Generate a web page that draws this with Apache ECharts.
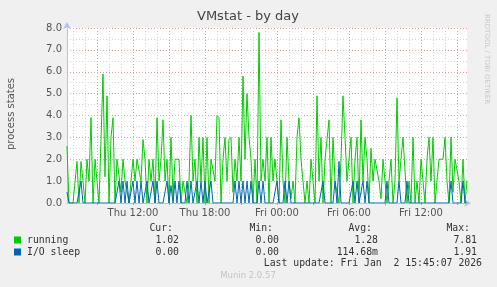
<!DOCTYPE html>
<html><head><meta charset="utf-8">
<script src="https://cdn.jsdelivr.net/npm/echarts@6/dist/echarts.min.js"></script>
<style>html,body{margin:0;padding:0;background:#F0F0F0}#c{width:497px;height:287px}</style>
</head><body><div id="c"></div>
<script>
// Time axis in hours since Thu 00:00; samples every 10 minutes
const startHour = 6.5;
const stepHours = 1 / 6;
const axisMinHour = 6.5;
const axisMaxHour = 6.5 + 400 / 12;
const labelHours = [12, 18, 24, 30, 36];
const majorGridHours = [9, 12, 15, 18, 21, 24, 27, 30, 33, 36, 39];
const minorGridHours = [7, 8, 10, 11, 13, 14, 16, 17, 19, 20, 22, 23, 25, 26, 28, 29, 31, 32, 34, 35, 37, 38];

const running = [
  2.6,0,0,0,0,1.9,0,1.9,1.0,0, 2.0,1.0,3.9,0,2.0,1.0,0,2.9,5.9,1.2,
  4.9,0,3.0,3.9,0,2.0,2.0,0.5,2.0,1.0, 1.0,0,0,2.0,1.0,2.0,2.0,1.0,2.9,2.0,
  0,2.0,1.0,2.0,0,3.9,1.0,2.0,3.8,1.0, 2.0,0,3.0,0.3,2.0,2.0,2.0,0,1.0,1.0,
  0,1.0,4.0,1.0,2.0,0,3.0,1.0,3.0,0, 3.0,0,2.0,2.0,1.0,4.0,3.9,0,2.0,3.0,
  1.0,2.9,3.0,0.5,2.0,1.0,3.0,1.0,5.8,2.0, 5.0,3.0,2.0,0,2.0,0,7.8,1.0,2.0,1.0,
  3.0,0,3.0,1.0,2.0,2.0,0,3.8,1.0,0, 3.0,1.0,0.2,1.0,0,3.0,3.9,2.0,1.0,0,
  1.0,0,2.0,2.0,0,4.9,1.0,3.0,0,2.0, 2.0,3.8,0,3.0,1.0,1.0,0,2.0,4.9,3.0,
  1.0,2.0,3.0,0,2.0,3.0,0,3.8,1.0,3.0, 2.0,0,2.5,1.0,2.0,2.0,1.0,0.2,2.0,2.0,
  0,1.0,2.0,0,1.0,4.8,1.0,2.0,3.0,3.0, 0,1.0,0,3.0,0,1.0,0,2.0,2.0,0,
  2.0,3.0,1.0,3.0,0,1.0,2.0,2.0,2.0,3.0, 1.0,0,3.0,0.5,2.0,2.0,1.0,0,2.0,0,
  1.02
];
const ioSleep = [
  0.5,0,0,0,0,0,0,1,0,0, 0,0,0,0,0,0,0,0,0,0,
  0,0,0,0,0,0,1,0,1,0, 1,0,0,1,0,1,0,1,0,0,
  1,0,0,1,0,1,0,0,0,0, 1,0,0.8,0,1,0,1,0,0,0,
  1,0,1,0,0,1,0,1,0,1, 0,0,1,0,0,0,0,0,0,0,
  0,0,0,0,1,0,1,0,1,0, 1,0,1,0,0,0,1,0,1,0,
  0,0,0,0,0,1,0,0,0,1, 0,1,0,0,0,0,0,0,0,0,
  0,0,0,0,0,0,0,0,1,0, 0,0,0,0,1,0,1.9,0,0,0,
  0,0,0,1,0,1,0,0,1,0, 1,0,0,0,0,0,0,0,0,0,
  1,0,0,0,0,0,1,0,0,0, 1,0,0,0,0,0,0,0,0,0,
  0,0,0,0,0,0,0,0,0,0, 0,0,1,0,0,0,0,0,1,0,
  0
];
const legendNames = ['running', 'I/O sleep'];
const legendColors = ['#00CC00', '#0066B3'];
const statCur = ['1.02', '0.00'];
const statMin = ['0.00', '0.00'];
const statAvg = ['1.28', '114.68m'];
const statMax = ['7.81', '1.91'];

const toPairs = arr => arr.map((v, i) => [startHour + i * stepHours, v]);
const pad = n => (n < 10 ? '0' : '') + n;
const fmtHour = v => (v < 24 ? 'Thu ' : 'Fri ') + pad(v % 24) + ':00';

const mono = '"DejaVu Sans Mono", monospace';
const sans = '"DejaVu Sans", sans-serif';
const txt = (x, y, text, opts) => Object.assign({
  type: 'text', x: x, y: y,
  style: Object.assign({ text: text, font: '9.8px ' + mono, fill: '#333', textVerticalAlign: 'middle' }, opts || {})
});

const graphics = [
  txt(248, 17, 'VMstat - by day', { font: '13px ' + sans, fill: '#444', textAlign: 'center' }),
  { type: 'text', x: 11, y: 114, rotation: Math.PI / 2,
    style: { text: 'process states', font: '10px ' + sans, fill: '#555', textAlign: 'center', textVerticalAlign: 'middle' } },
  { type: 'text', x: 487, y: 14, rotation: -Math.PI / 2,
    style: { text: 'RRDTOOL / TOBI OETIKER', font: '7px ' + sans, fill: '#c8c8c8', textAlign: 'left', textVerticalAlign: 'middle' } },
  txt(173, 228, 'Cur:', { textAlign: 'right' }),
  txt(273, 228, 'Min:', { textAlign: 'right' }),
  txt(372, 228, 'Avg:', { textAlign: 'right' }),
  txt(470, 228, 'Max:', { textAlign: 'right' }),
  txt(482, 263, 'Last update: Fri Jan  2 15:45:07 2026', { textAlign: 'right' }),
  txt(248, 276, 'Munin 2.0.57', { font: '8.5px ' + sans, fill: '#c4c4c4', textAlign: 'center' })
];
legendNames.forEach((name, i) => {
  const y = 240 + i * 12;
  graphics.push({ type: 'rect', shape: { x: 14, y: y - 3.5, width: 7, height: 7 }, style: { fill: legendColors[i] } });
  graphics.push(txt(27, y, name));
  graphics.push(txt(179, y, statCur[i], { textAlign: 'right' }));
  graphics.push(txt(279, y, statMin[i], { textAlign: 'right' }));
  graphics.push(txt(378, y, statAvg[i], { textAlign: 'right' }));
  graphics.push(txt(477, y, statMax[i], { textAlign: 'right' }));
});

const chart = echarts.init(document.getElementById('c'), null, { renderer: 'canvas' });
chart.setOption({
  animation: false,
  backgroundColor: '#F0F0F0',
  grid: { left: 67, right: 30, top: 28, bottom: 84, show: true, backgroundColor: '#ffffff', borderWidth: 0 },
  xAxis: [
    {
      type: 'value', min: axisMinHour, max: axisMaxHour, z: 3,
      axisLine: { show: true, lineStyle: { color: '#b8c0f0', width: 1 }, symbol: ['none', 'arrow'], symbolSize: [6, 7], symbolOffset: [0, 4] },
      axisTick: { show: true, customValues: majorGridHours, length: 2, inside: false, lineStyle: { color: '#f08080' } },
      axisLabel: { customValues: labelHours, formatter: fmtHour, color: '#555', fontFamily: sans, fontSize: 10, margin: 5 },
      splitLine: { show: true, lineStyle: { color: '#eaa0a0', type: [1, 2], width: 1 } }
    },
    {
      type: 'value', min: axisMinHour, max: axisMaxHour, z: 1,
      axisLine: { show: false },
      axisTick: { show: false, customValues: minorGridHours },
      axisLabel: { show: false },
      splitLine: { show: true, lineStyle: { color: '#d4d4d4', type: [1, 2], width: 1 } }
    }
  ],
  yAxis: {
    type: 'value', min: 0, max: 8, interval: 1,
    axisLine: { show: true, lineStyle: { color: '#b8c0f0', width: 1 }, symbol: ['none', 'arrow'], symbolSize: [6, 7], symbolOffset: [0, 6] },
    axisTick: { show: false },
    axisLabel: { formatter: v => v.toFixed(1), color: '#555', fontFamily: sans, fontSize: 10, margin: 5 },
    splitLine: { show: true, lineStyle: { color: '#eaa0a0', type: [1, 2], width: 1 } },
    minorTick: { show: false, splitNumber: 2 },
    minorSplitLine: { show: true, lineStyle: { color: '#d4d4d4', type: [1, 2], width: 1 } }
  },
  series: [
    { name: legendNames[0], type: 'line', xAxisIndex: 0, data: toPairs(running), showSymbol: false, z: 4,
      lineStyle: { color: legendColors[0], width: 1 }, itemStyle: { color: legendColors[0] } },
    { name: legendNames[1], type: 'line', xAxisIndex: 0, data: toPairs(ioSleep), showSymbol: false, z: 5,
      lineStyle: { color: legendColors[1], width: 1 }, itemStyle: { color: legendColors[1] } }
  ],
  graphic: graphics
});
</script>
</body></html>
